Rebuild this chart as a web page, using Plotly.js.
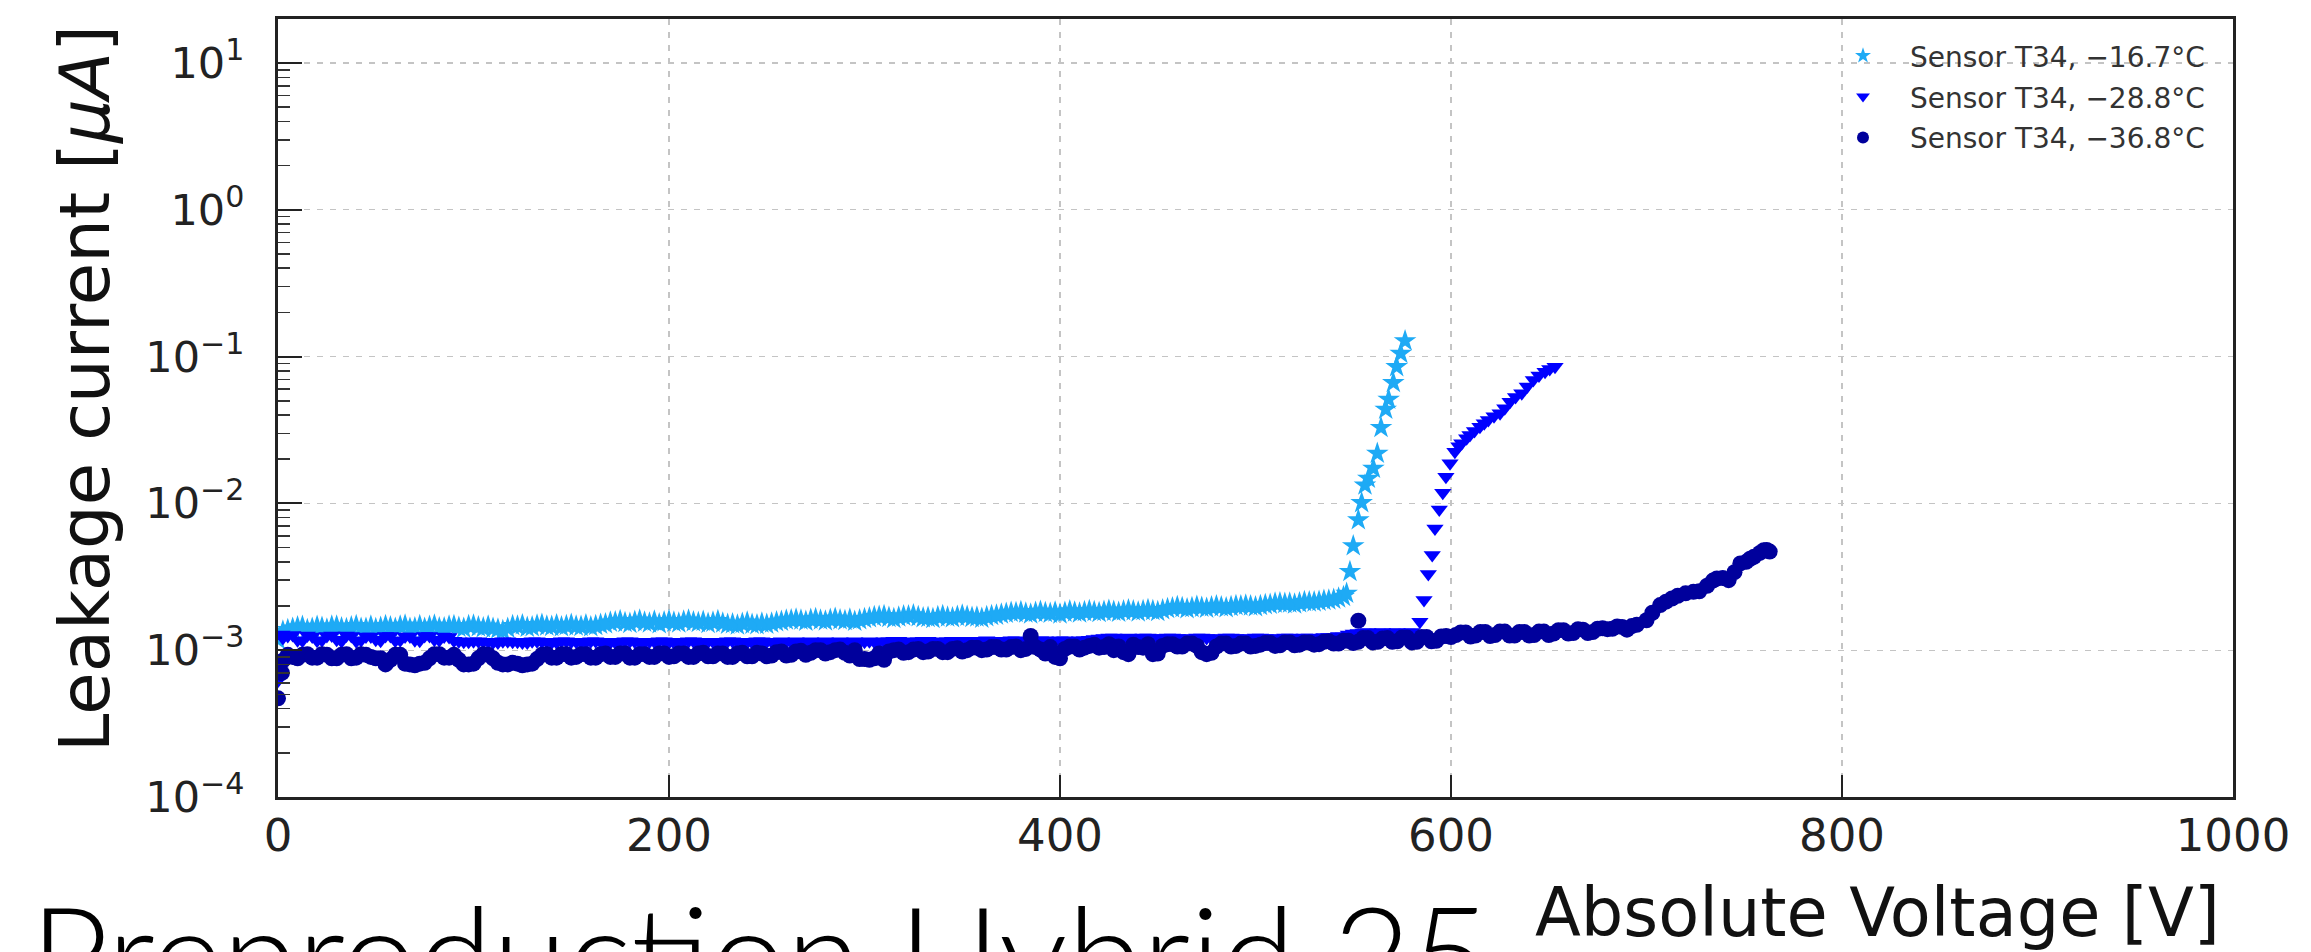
<!DOCTYPE html>
<html>
<head>
<meta charset="utf-8">
<script src="https://cdn.plot.ly/plotly-3.0.1.min.js"></script>
<style>
html,body{margin:0;padding:0;background:#fff;}
#chart{width:2311px;height:952px;}
</style>
</head>
<body>
<div id="chart"></div>
<script>
// ---------- Data (Absolute voltage [V], leakage current [uA]) ----------
const seriesNames = ["Sensor T34, \u221216.7\u00b0C", "Sensor T34, \u221228.8\u00b0C", "Sensor T34, \u221236.8\u00b0C"];

// Sensor T34, -16.7 C (stars)
const vStarFlat = [0,5,10,15,20,25,30,35,40,45,50,55,60,65,70,75,80,85,90,95,
  100,105,110,115,120,125,130,135,140,145,150,155,160,165,170,175,180,185,190,195,
  200,205,210,215,220,225,230,235,240,245,250,255,260,265,270,275,280,285,290,295,
  300,305,310,315,320,325,330,335,340,345,350,355,360,365,370,375,380,385,390,395,
  400,405,410,415,420,425,430,435,440,445,450,455,460,465,470,475,480,485,490,495,
  500,505,510,515,520,525,530,535,540,545];
const iStarFlat = [0.00118,0.00138,0.00144,0.00138,0.00145,0.00139,0.00146,0.00140,0.00147,0.00141,
  0.00140,0.00147,0.00141,0.00148,0.00142,0.00141,0.00148,0.00142,0.00147,0.00141,
  0.00148,0.00142,0.00141,0.00136,0.00147,0.00149,0.00144,0.00150,0.00145,0.00144,
  0.00150,0.00145,0.00144,0.00150,0.00155,0.00159,0.00152,0.00160,0.00153,0.00151,
  0.00159,0.00153,0.00160,0.00154,0.00152,0.00159,0.00150,0.00148,0.00155,0.00149,
  0.00150,0.00156,0.00160,0.00163,0.00157,0.00164,0.00158,0.00165,0.00159,0.00157,
  0.00164,0.00169,0.00172,0.00164,0.00171,0.00174,0.00166,0.00164,0.00172,0.00166,
  0.00173,0.00167,0.00165,0.00172,0.00176,0.00181,0.00183,0.00176,0.00184,0.00178,
  0.00176,0.00185,0.00179,0.00186,0.00180,0.00187,0.00181,0.00188,0.00182,0.00189,
  0.00183,0.00192,0.00198,0.00191,0.00199,0.00193,0.00200,0.00194,0.00201,0.00203,
  0.00197,0.00204,0.00209,0.00208,0.00206,0.00214,0.00213,0.00218,0.00222,0.00232];
const vStarMid = [2.5,7.5,12.5,17.5,22.5,27.5,32.5,37.5,42.5,47.5,52.5,57.5,62.5,67.5,72.5,77.5,82.5,87.5,92.5,97.5,
  102.5,107.5,112.5,117.5,122.5,127.5,132.5,137.5,142.5,147.5,152.5,157.5,162.5,167.5,172.5,177.5,182.5,187.5,192.5,197.5,
  202.5,207.5,212.5,217.5,222.5,227.5,232.5,237.5,242.5,247.5,252.5,257.5,262.5,267.5,272.5,277.5,282.5,287.5,292.5,297.5,
  302.5,307.5,312.5,317.5,322.5,327.5,332.5,337.5,342.5,347.5,352.5,357.5,362.5,367.5,372.5,377.5,382.5,387.5,392.5,397.5,
  402.5,407.5,412.5,417.5,422.5,427.5,432.5,437.5,442.5,447.5,452.5,457.5,462.5,467.5,472.5,477.5,482.5,487.5,492.5,497.5,
  502.5,507.5,512.5,517.5,522.5,527.5,532.5,537.5,542.5];
const iStarMid = [0.00135,0.00141,0.00145,0.00141,0.00143,0.00146,0.00142,0.00144,0.00141,0.00146,
  0.00143,0.00144,0.00146,0.00141,0.00147,0.00145,0.00142,0.00146,0.00143,0.00147,
  0.00144,0.00146,0.00139,0.00141,0.00146,0.00143,0.00148,0.00146,0.00149,0.00147,
  0.00146,0.00149,0.00147,0.00151,0.00156,0.00154,0.00157,0.00155,0.00158,0.00156,
  0.00155,0.00158,0.00156,0.00157,0.00155,0.00153,0.00151,0.00152,0.00150,0.00153,
  0.00153,0.00157,0.00161,0.00160,0.00162,0.00160,0.00162,0.00161,0.00163,0.00161,
  0.00166,0.00170,0.00167,0.00168,0.00171,0.00169,0.00167,0.00169,0.00168,0.00170,
  0.00170,0.00168,0.00169,0.00173,0.00178,0.00180,0.00179,0.00181,0.00180,0.00182,
  0.00181,0.00182,0.00183,0.00183,0.00184,0.00184,0.00185,0.00185,0.00186,0.00186,
  0.00188,0.00194,0.00195,0.00195,0.00196,0.00197,0.00197,0.00198,0.00200,0.00200,
  0.00201,0.00205,0.00210,0.00209,0.00210,0.00213,0.00215,0.00219,0.00226];
const vStarRise = [546.6,548.3,550.0,552.6,554.3,556.0,557.7,560.3,562.3,564.2,566.6,568.1,570.5,572.2,574.3,576.5];
const iStarRise = [0.00244,0.00343,0.00513,0.00771,0.0101,0.0133,0.0148,0.0173,0.0219,0.0328,0.0437,0.0511,0.0664,0.0853,0.105,0.128];

// Sensor T34, -28.8 C (down triangles)
const vTriFlat = [0,2,5,10,15,20,25,30,35,40,45,50,55,60,65,70,75,80,85,90,95,
  100,105,110,115,120,125,130,135,140,145,150,155,160,165,170,175,180,185,190,195,
  200,205,210,215,220,225,230,235,240,245,250,255,260,265,270,275,280,285,290,295,
  300,305,310,315,320,325,330,335,340,345,350,355,360,365,370,375,380,385,390,395,
  400,405,410,415,420,425,430,435,440,445,450,455,460,465,470,475,480,485,490,495,
  500,505,510,515,520,525,530,535,540,545,550,555,560,565,570,575,580];
const iTriFlat = [0.00062,0.00128,
  0.00125,0.00117,0.00126,0.00116,0.00125,0.00118,0.00126,0.00115,0.00124,0.00118,
  0.00125,0.00116,0.00124,0.00117,0.00125,0.00118,0.00124,0.00116,0.00114,0.00115,
  0.00114,0.00113,0.00115,0.00114,0.00113,0.00115,0.00114,0.00113,0.00115,0.00114,
  0.00113,0.00115,0.00114,0.00113,0.00114,0.00115,0.00113,0.00114,0.00115,0.00113,
  0.00114,0.00115,0.00113,0.00114,0.00113,0.00115,0.00114,0.00113,0.00115,0.00114,
  0.00113,0.00114,0.00115,0.00113,0.00114,0.00115,0.00113,0.00114,0.00115,0.00114,
  0.00114,0.00115,0.00116,0.00114,0.00115,0.00116,0.00114,0.00115,0.00116,0.00115,
  0.00115,0.00116,0.00115,0.00116,0.00117,0.00115,0.00116,0.00117,0.00116,0.00117,
  0.00116,0.00117,0.00118,0.00120,0.00122,0.00121,0.00122,0.00120,0.00122,0.00121,
  0.00122,0.00121,0.00120,0.00122,0.00121,0.00120,0.00122,0.00121,0.00120,0.00122,
  0.00121,0.00120,0.00122,0.00121,0.00122,0.00121,0.00123,0.00122,0.00124,0.00130,
  0.00132,0.00131,0.00133,0.00132,0.00131,0.00133];
const vTriMid = [2.5,7.5,12.5,17.5,22.5,27.5,32.5,37.5,42.5,47.5,52.5,57.5,62.5,67.5,72.5,77.5,82.5,87.5,92.5,97.5,
  102.5,107.5,112.5,117.5,122.5,127.5,132.5,137.5,142.5,147.5,152.5,157.5,162.5,167.5,172.5,177.5,182.5,187.5,192.5,197.5,
  202.5,207.5,212.5,217.5,222.5,227.5,232.5,237.5,242.5,247.5,252.5,257.5,262.5,267.5,272.5,277.5,282.5,287.5,292.5,297.5,
  302.5,307.5,312.5,317.5,322.5,327.5,332.5,337.5,342.5,347.5,352.5,357.5,362.5,367.5,372.5,377.5,382.5,387.5,392.5,397.5,
  402.5,407.5,412.5,417.5,422.5,427.5,432.5,437.5,442.5,447.5,452.5,457.5,462.5,467.5,472.5,477.5,482.5,487.5,492.5,497.5,
  502.5,507.5,512.5,517.5,522.5,527.5,532.5,537.5,542.5,547.5,552.5,557.5,562.5,567.5,572.5,577.5];
const iTriMid = [0.00121,0.00127,0.00116,0.00124,0.00117,0.00126,0.00115,0.00125,0.00117,0.00124,
  0.00116,0.00125,0.00117,0.00124,0.00116,0.00125,0.00117,0.00123,0.00115,0.00114,
  0.00115,0.00114,0.00113,0.00115,0.00114,0.00113,0.00115,0.00114,0.00113,0.00115,
  0.00114,0.00113,0.00115,0.00114,0.00113,0.00115,0.00114,0.00113,0.00114,0.00115,
  0.00113,0.00114,0.00115,0.00113,0.00114,0.00113,0.00115,0.00114,0.00113,0.00115,
  0.00114,0.00115,0.00113,0.00114,0.00115,0.00114,0.00113,0.00115,0.00114,0.00113,
  0.00115,0.00114,0.00115,0.00116,0.00114,0.00115,0.00116,0.00114,0.00115,0.00116,
  0.00116,0.00115,0.00117,0.00115,0.00116,0.00117,0.00115,0.00116,0.00117,0.00116,
  0.00117,0.00116,0.00117,0.00119,0.00121,0.00122,0.00120,0.00121,0.00122,0.00120,
  0.00121,0.00122,0.00121,0.00120,0.00122,0.00121,0.00120,0.00122,0.00121,0.00120,
  0.00122,0.00121,0.00120,0.00122,0.00121,0.00122,0.00121,0.00123,0.00125,0.00128,
  0.00131,0.00133,0.00132,0.00131,0.00133,0.00132];
const vTriRise = [584.1,586.2,588.4,590.4,591.8,594.0,595.8,597.4,599.5,602.0,604.0,605.5,608.0,609.7,612.0,
  614.8,617.0,619.1,622.0,625.1,627.5,630.2,633.0,636.2,639.0,642.1,645.0,648.1,650.5,653.2];
const iTriRise = [0.00156,0.0022,0.0033,0.00445,0.00676,0.0091,0.0118,0.0152,0.0188,0.0225,0.0245,0.0257,0.0278,0.0292,0.0312,
  0.0333,0.0352,0.037,0.0392,0.0411,0.0445,0.0493,0.053,0.0562,0.0625,0.0693,0.0745,0.0789,0.0825,0.0853];

// Sensor T34, -36.8 C (circles)
const vCircFlat = [0,2,5,10,15,20,25,30,35,40,45,50,55,60,65,70,75,80,85,90,95,
  100,105,110,115,120,125,130,135,140,145,150,155,160,165,170,175,180,185,190,195,
  200,205,210,215,220,225,230,235,240,245,250,255,260,265,270,275,280,285,290,295,
  300,305,310,315,320,325,330,335,340,345,350,355,360,365,370,375,380,385,390,395,
  400,405,410,415,420,425,430,435,440,445,450,455,460,465,470,475,480,485,490,495,
  500,505,510,515,520,525,530,535,540,545,550,555,560,565,570,575,580,585,590,595,
  600,605,610,615,620,625,630,635,640,645,650,655,660,665,670,675,680,685,690,695];
const iCircFlat = [0.00047,0.00070,
  0.00093,0.00088,0.00094,0.00089,0.00093,0.00088,0.00094,0.00089,0.00093,0.00088,
  0.00080,0.00093,0.00081,0.00079,0.00082,0.00094,0.00089,0.00093,0.00080,0.00081,
  0.00094,0.00088,0.00080,0.00082,0.00079,0.00081,0.00093,0.00089,0.00094,0.00089,
  0.00094,0.00089,0.00094,0.00090,0.00095,0.00089,0.00094,0.00090,0.00095,0.00090,
  0.00095,0.00090,0.00095,0.00091,0.00095,0.00090,0.00095,0.00091,0.00096,0.00091,
  0.00097,0.00092,0.00098,0.00093,0.00100,0.00095,0.00100,0.00096,0.00100,0.00087,
  0.00088,0.00086,0.00100,0.00096,0.00101,0.00097,0.00102,0.00097,0.00102,0.00098,
  0.00104,0.00100,0.00105,0.00101,0.00105,0.00100,0.00125,0.00101,0.00105,0.00088,
  0.00106,0.00101,0.00107,0.00104,0.00110,0.00106,0.00094,0.00105,0.00110,0.00095,
  0.00110,0.00106,0.00111,0.00107,0.00094,0.00106,0.00111,0.00107,0.00111,0.00107,
  0.00112,0.00107,0.00113,0.00108,0.00113,0.00109,0.00114,0.00111,0.00116,0.00112,
  0.00121,0.00113,0.00120,0.00114,0.00122,0.00113,0.00123,0.00115,0.00124,0.00123,
  0.00132,0.00124,0.00133,0.00125,0.00134,0.00126,0.00133,0.00126,0.00134,0.00127,
  0.00137,0.00130,0.00139,0.00131,0.00140,0.00139,0.00145,0.00138,0.00149];
const vCircMid = [2.5,7.5,12.5,17.5,22.5,27.5,32.5,37.5,42.5,47.5,52.5,57.5,62.5,67.5,72.5,77.5,82.5,87.5,92.5,97.5,
  102.5,107.5,112.5,117.5,122.5,127.5,132.5,137.5,142.5,147.5,152.5,157.5,162.5,167.5,172.5,177.5,182.5,187.5,192.5,197.5,
  202.5,207.5,212.5,217.5,222.5,227.5,232.5,237.5,242.5,247.5,252.5,257.5,262.5,267.5,272.5,277.5,282.5,287.5,292.5,297.5,
  302.5,307.5,312.5,317.5,322.5,327.5,332.5,337.5,342.5,347.5,352.5,357.5,362.5,367.5,372.5,377.5,382.5,387.5,392.5,397.5,
  402.5,407.5,412.5,417.5,422.5,427.5,432.5,437.5,442.5,447.5,452.5,457.5,462.5,467.5,472.5,477.5,482.5,487.5,492.5,497.5,
  502.5,507.5,512.5,517.5,522.5,527.5,532.5,537.5,542.5,547.5,552.5,557.5,562.5,567.5,572.5,577.5,582.5,587.5,592.5,597.5,
  602.5,607.5,612.5,617.5,622.5,627.5,632.5,637.5,642.5,647.5,652.5,657.5,662.5,667.5,672.5,677.5,682.5,687.5,692.5];
const iCircMid = [0.00085,0.00090,0.00093,0.00089,0.00094,0.00088,0.00093,0.00088,0.00094,0.00090,
  0.00088,0.00086,0.00093,0.00080,0.00081,0.00088,0.00094,0.00089,0.00086,0.00080,
  0.00088,0.00093,0.00082,0.00080,0.00081,0.00080,0.00087,0.00094,0.00089,0.00094,
  0.00090,0.00094,0.00089,0.00095,0.00090,0.00095,0.00089,0.00094,0.00090,0.00095,
  0.00091,0.00095,0.00090,0.00096,0.00091,0.00095,0.00090,0.00096,0.00091,0.00095,
  0.00092,0.00098,0.00093,0.00099,0.00096,0.00100,0.00097,0.00101,0.00092,0.00087,
  0.00086,0.00095,0.00098,0.00101,0.00097,0.00102,0.00098,0.00102,0.00097,0.00103,
  0.00100,0.00104,0.00101,0.00105,0.00101,0.00106,0.00102,0.00105,0.00095,0.00090,
  0.00102,0.00106,0.00104,0.00109,0.00105,0.00100,0.00097,0.00109,0.00104,0.00094,
  0.00107,0.00110,0.00106,0.00111,0.00097,0.00096,0.00111,0.00106,0.00111,0.00106,
  0.00109,0.00112,0.00108,0.00113,0.00109,0.00113,0.00110,0.00115,0.00111,0.00116,
  0.00114,0.00121,0.00114,0.00121,0.00115,0.00122,0.00114,0.00123,0.00116,0.00125,
  0.00127,0.00132,0.00126,0.00133,0.00127,0.00134,0.00126,0.00133,0.00127,0.00134,
  0.00130,0.00137,0.00131,0.00138,0.00133,0.00141,0.00140,0.00144,0.00146];
const vCircRise = [552.6,700,703,707,710,713,716,720,724,727,731,734,736,739,742,745,748,751,753,755,758,760,761.5,763];
const iCircRise = [0.00159,0.00160,0.00180,0.00203,0.00214,0.00225,0.00235,0.00244,0.00250,0.00252,0.00275,0.00298,
  0.00308,0.00310,0.00300,0.00340,0.00390,0.00400,0.00420,0.00433,0.00460,0.00480,0.00482,0.00470];

// Axis ticks
const xTickVals = [0,200,400,600,800,1000];
const xTickText = ["0","200","400","600","800","1000"];
const yTickVals = [1e-4,1e-3,1e-2,1e-1,1,10];
const yTickText = ["10<sup>\u22124</sup>","10<sup>\u22123</sup>","10<sup>\u22122</sup>","10<sup>\u22121</sup>","10<sup>0</sup>","10<sup>1</sup>"];

// ---------- Plot ----------
const minorVals = [];
for (let d = -4; d <= 0; d++) for (let k = 2; k <= 9; k++) minorVals.push(k * Math.pow(10, d));

const FONT = "DejaVu Sans, sans-serif";
const L = 278, R = 2233, T = 19, B = 797, W = 2311, H = 952;
const px2x = p => (p - L) / (R - L);
const px2y = p => (B - p) / (B - T);

const traces = [
  {x: vStarFlat.concat(vStarMid, vStarRise), y: iStarFlat.concat(iStarMid, iStarRise), name: seriesNames[0],
   type: "scatter", mode: "markers", legendgroup: "a",
   marker: {symbol: "star", size: 17, color: "#1eaaf5", line: {width: 0}}},
  {x: vTriFlat.concat(vTriMid, vTriRise), y: iTriFlat.concat(iTriMid, iTriRise), name: seriesNames[1],
   type: "scatter", mode: "markers", legendgroup: "b",
   marker: {symbol: "triangle-down", size: 15, color: "#0000ff", line: {width: 0}}},
  {x: vCircFlat.concat(vCircMid, vCircRise), y: iCircFlat.concat(iCircMid, iCircRise), name: seriesNames[2],
   type: "scatter", mode: "markers", legendgroup: "c",
   marker: {symbol: "circle", size: 16, color: "#00009c", line: {width: 0}}}
];

const layout = {
  width: W, height: H,
  margin: {l: L, r: W - R, t: T, b: H - B, pad: 0},
  paper_bgcolor: "#ffffff", plot_bgcolor: "#ffffff",
  showlegend: true,
  legend: {x: px2x(1816), y: px2y(31), xanchor: "left", yanchor: "top",
           bgcolor: "rgba(0,0,0,0)", borderwidth: 0, itemwidth: 84, tracegroupgap: 1.5,
           itemsizing: "constant",
           font: {family: FONT, size: 28, color: "#333333"}},
  xaxis: {range: [0, 1000], tickmode: "array", tickvals: xTickVals, ticktext: xTickText,
          ticks: "inside", ticklen: 22, tickwidth: 2, tickcolor: "#222",
          showline: true, linewidth: 3, linecolor: "#222", mirror: true,
          showgrid: true, gridcolor: "#c4c4c4", gridwidth: 1.2, griddash: "6px,7px",
          zeroline: false, ticklabelstandoff: -3,
          tickfont: {family: FONT, size: 45, color: "#222"}},
  yaxis: {type: "log", range: [-4, 1.3], tickmode: "array", tickvals: yTickVals, ticktext: yTickText,
          ticks: "inside", ticklen: 24, tickwidth: 2, tickcolor: "#222",
          minor: {tickmode: "array", tickvals: minorVals, ticks: "inside", ticklen: 12, tickwidth: 1.5, tickcolor: "#333", showgrid: false},
          showline: true, linewidth: 3, linecolor: "#222", mirror: true,
          showgrid: true, gridcolor: "#c4c4c4", gridwidth: 1.2, griddash: "6px,7px",
          zeroline: false, ticklabelstandoff: 22,
          tickfont: {family: FONT, size: 43, color: "#222"}},
  annotations: [
    {text: "Leakage current [<i>\u03bcA</i>]", xref: "paper", yref: "paper",
     x: px2x(85), y: px2y(389), xanchor: "center", yanchor: "middle", textangle: -90,
     showarrow: false, font: {family: FONT, size: 69, color: "#111"}},
    {text: "Absolute Voltage [V]", xref: "paper", yref: "paper",
     x: px2x(2222), y: px2y(872), xanchor: "right", yanchor: "top",
     showarrow: false, font: {family: FONT, size: 67, color: "#111"}},
    {text: "Preproduction Hybrid 25", xref: "paper", yref: "paper",
     x: px2x(28), y: px2y(869), xanchor: "left", yanchor: "top",
     showarrow: false, font: {family: "Lato, sans-serif", size: 136, weight: 300, color: "#000"}}
  ]
};

Plotly.newPlot("chart", traces, layout, {displayModeBar: false, staticPlot: true});
</script>
</body>
</html>
